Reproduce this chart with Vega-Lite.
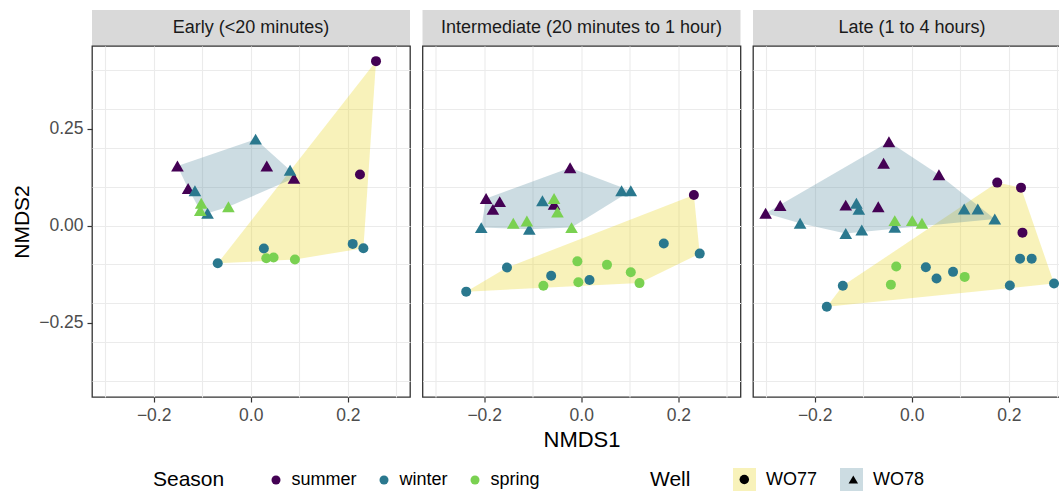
{
  "$schema": "https://vega.github.io/schema/vega-lite/v6.json",
  "background": "white",
  "padding": {"left": 11, "top": 10, "right": 0, "bottom": 0},
  "spacing": 10.5,
  "datasets": {
    "pts": [
      {"Time": "Early", "Well": "WO77", "Season": "summer", "NMDS1": 0.258, "NMDS2": 0.424},
      {"Time": "Early", "Well": "WO77", "Season": "summer", "NMDS1": 0.225, "NMDS2": 0.132},
      {"Time": "Early", "Well": "WO77", "Season": "winter", "NMDS1": 0.210, "NMDS2": -0.047},
      {"Time": "Early", "Well": "WO77", "Season": "winter", "NMDS1": 0.232, "NMDS2": -0.058},
      {"Time": "Early", "Well": "WO77", "Season": "winter", "NMDS1": 0.027, "NMDS2": -0.059},
      {"Time": "Early", "Well": "WO77", "Season": "winter", "NMDS1": -0.068, "NMDS2": -0.097},
      {"Time": "Early", "Well": "WO77", "Season": "spring", "NMDS1": 0.032, "NMDS2": -0.084},
      {"Time": "Early", "Well": "WO77", "Season": "spring", "NMDS1": 0.047, "NMDS2": -0.082},
      {"Time": "Early", "Well": "WO77", "Season": "spring", "NMDS1": 0.091, "NMDS2": -0.087},
      {"Time": "Early", "Well": "WO78", "Season": "summer", "NMDS1": -0.151, "NMDS2": 0.154},
      {"Time": "Early", "Well": "WO78", "Season": "summer", "NMDS1": -0.129, "NMDS2": 0.096},
      {"Time": "Early", "Well": "WO78", "Season": "summer", "NMDS1": 0.033, "NMDS2": 0.154},
      {"Time": "Early", "Well": "WO78", "Season": "summer", "NMDS1": 0.089, "NMDS2": 0.122},
      {"Time": "Early", "Well": "WO78", "Season": "winter", "NMDS1": 0.010, "NMDS2": 0.223},
      {"Time": "Early", "Well": "WO78", "Season": "winter", "NMDS1": 0.081, "NMDS2": 0.143},
      {"Time": "Early", "Well": "WO78", "Season": "winter", "NMDS1": -0.115, "NMDS2": 0.090},
      {"Time": "Early", "Well": "WO78", "Season": "winter", "NMDS1": -0.089, "NMDS2": 0.032},
      {"Time": "Early", "Well": "WO78", "Season": "spring", "NMDS1": -0.102, "NMDS2": 0.058},
      {"Time": "Early", "Well": "WO78", "Season": "spring", "NMDS1": -0.104, "NMDS2": 0.039},
      {"Time": "Early", "Well": "WO78", "Season": "spring", "NMDS1": -0.046, "NMDS2": 0.049},
      {"Time": "Intermediate", "Well": "WO77", "Season": "summer", "NMDS1": 0.232, "NMDS2": 0.079},
      {"Time": "Intermediate", "Well": "WO77", "Season": "winter", "NMDS1": -0.237, "NMDS2": -0.170},
      {"Time": "Intermediate", "Well": "WO77", "Season": "winter", "NMDS1": -0.153, "NMDS2": -0.108},
      {"Time": "Intermediate", "Well": "WO77", "Season": "winter", "NMDS1": -0.062, "NMDS2": -0.129},
      {"Time": "Intermediate", "Well": "WO77", "Season": "winter", "NMDS1": 0.017, "NMDS2": -0.140},
      {"Time": "Intermediate", "Well": "WO77", "Season": "winter", "NMDS1": 0.170, "NMDS2": -0.046},
      {"Time": "Intermediate", "Well": "WO77", "Season": "winter", "NMDS1": 0.244, "NMDS2": -0.072},
      {"Time": "Intermediate", "Well": "WO77", "Season": "spring", "NMDS1": -0.008, "NMDS2": -0.092},
      {"Time": "Intermediate", "Well": "WO77", "Season": "spring", "NMDS1": 0.053, "NMDS2": -0.101},
      {"Time": "Intermediate", "Well": "WO77", "Season": "spring", "NMDS1": 0.102, "NMDS2": -0.120},
      {"Time": "Intermediate", "Well": "WO77", "Season": "spring", "NMDS1": 0.120, "NMDS2": -0.148},
      {"Time": "Intermediate", "Well": "WO77", "Season": "spring", "NMDS1": -0.006, "NMDS2": -0.146},
      {"Time": "Intermediate", "Well": "WO77", "Season": "spring", "NMDS1": -0.078, "NMDS2": -0.155},
      {"Time": "Intermediate", "Well": "WO78", "Season": "summer", "NMDS1": -0.023, "NMDS2": 0.149},
      {"Time": "Intermediate", "Well": "WO78", "Season": "summer", "NMDS1": -0.196, "NMDS2": 0.070},
      {"Time": "Intermediate", "Well": "WO78", "Season": "summer", "NMDS1": -0.168, "NMDS2": 0.062},
      {"Time": "Intermediate", "Well": "WO78", "Season": "summer", "NMDS1": -0.182, "NMDS2": 0.042},
      {"Time": "Intermediate", "Well": "WO78", "Season": "summer", "NMDS1": -0.056, "NMDS2": 0.055},
      {"Time": "Intermediate", "Well": "WO78", "Season": "winter", "NMDS1": -0.206, "NMDS2": -0.005},
      {"Time": "Intermediate", "Well": "WO78", "Season": "winter", "NMDS1": -0.080, "NMDS2": 0.064},
      {"Time": "Intermediate", "Well": "WO78", "Season": "winter", "NMDS1": -0.107, "NMDS2": -0.009},
      {"Time": "Intermediate", "Well": "WO78", "Season": "winter", "NMDS1": 0.083, "NMDS2": 0.090},
      {"Time": "Intermediate", "Well": "WO78", "Season": "winter", "NMDS1": 0.102, "NMDS2": 0.090},
      {"Time": "Intermediate", "Well": "WO78", "Season": "spring", "NMDS1": -0.056, "NMDS2": 0.070},
      {"Time": "Intermediate", "Well": "WO78", "Season": "spring", "NMDS1": -0.049, "NMDS2": 0.035},
      {"Time": "Intermediate", "Well": "WO78", "Season": "spring", "NMDS1": -0.140, "NMDS2": 0.006},
      {"Time": "Intermediate", "Well": "WO78", "Season": "spring", "NMDS1": -0.112, "NMDS2": 0.012},
      {"Time": "Intermediate", "Well": "WO78", "Season": "spring", "NMDS1": -0.020, "NMDS2": -0.005},
      {"Time": "Late", "Well": "WO77", "Season": "summer", "NMDS1": 0.176, "NMDS2": 0.111},
      {"Time": "Late", "Well": "WO77", "Season": "summer", "NMDS1": 0.225, "NMDS2": 0.098},
      {"Time": "Late", "Well": "WO77", "Season": "summer", "NMDS1": 0.228, "NMDS2": -0.018},
      {"Time": "Late", "Well": "WO77", "Season": "winter", "NMDS1": -0.175, "NMDS2": -0.209},
      {"Time": "Late", "Well": "WO77", "Season": "winter", "NMDS1": -0.142, "NMDS2": -0.155},
      {"Time": "Late", "Well": "WO77", "Season": "winter", "NMDS1": 0.029, "NMDS2": -0.107},
      {"Time": "Late", "Well": "WO77", "Season": "winter", "NMDS1": 0.051, "NMDS2": -0.136},
      {"Time": "Late", "Well": "WO77", "Season": "winter", "NMDS1": 0.085, "NMDS2": -0.119},
      {"Time": "Late", "Well": "WO77", "Season": "winter", "NMDS1": 0.202, "NMDS2": -0.154},
      {"Time": "Late", "Well": "WO77", "Season": "winter", "NMDS1": 0.223, "NMDS2": -0.085},
      {"Time": "Late", "Well": "WO77", "Season": "winter", "NMDS1": 0.247, "NMDS2": -0.085},
      {"Time": "Late", "Well": "WO77", "Season": "winter", "NMDS1": 0.293, "NMDS2": -0.149},
      {"Time": "Late", "Well": "WO77", "Season": "spring", "NMDS1": -0.032, "NMDS2": -0.105},
      {"Time": "Late", "Well": "WO77", "Season": "spring", "NMDS1": -0.043, "NMDS2": -0.152},
      {"Time": "Late", "Well": "WO77", "Season": "spring", "NMDS1": 0.109, "NMDS2": -0.132},
      {"Time": "Late", "Well": "WO78", "Season": "summer", "NMDS1": -0.301, "NMDS2": 0.032},
      {"Time": "Late", "Well": "WO78", "Season": "summer", "NMDS1": -0.271, "NMDS2": 0.052},
      {"Time": "Late", "Well": "WO78", "Season": "summer", "NMDS1": -0.047, "NMDS2": 0.216},
      {"Time": "Late", "Well": "WO78", "Season": "summer", "NMDS1": -0.058, "NMDS2": 0.161},
      {"Time": "Late", "Well": "WO78", "Season": "summer", "NMDS1": 0.056, "NMDS2": 0.131},
      {"Time": "Late", "Well": "WO78", "Season": "summer", "NMDS1": -0.136, "NMDS2": 0.053},
      {"Time": "Late", "Well": "WO78", "Season": "summer", "NMDS1": -0.069, "NMDS2": 0.049},
      {"Time": "Late", "Well": "WO78", "Season": "winter", "NMDS1": -0.230, "NMDS2": 0.006},
      {"Time": "Late", "Well": "WO78", "Season": "winter", "NMDS1": -0.114, "NMDS2": 0.058},
      {"Time": "Late", "Well": "WO78", "Season": "winter", "NMDS1": -0.109, "NMDS2": 0.042},
      {"Time": "Late", "Well": "WO78", "Season": "winter", "NMDS1": -0.136, "NMDS2": -0.020},
      {"Time": "Late", "Well": "WO78", "Season": "winter", "NMDS1": -0.103, "NMDS2": -0.011},
      {"Time": "Late", "Well": "WO78", "Season": "winter", "NMDS1": -0.035, "NMDS2": -0.004},
      {"Time": "Late", "Well": "WO78", "Season": "winter", "NMDS1": 0.108, "NMDS2": 0.043},
      {"Time": "Late", "Well": "WO78", "Season": "winter", "NMDS1": 0.136, "NMDS2": 0.043},
      {"Time": "Late", "Well": "WO78", "Season": "winter", "NMDS1": 0.171, "NMDS2": 0.017},
      {"Time": "Late", "Well": "WO78", "Season": "spring", "NMDS1": -0.035, "NMDS2": 0.013},
      {"Time": "Late", "Well": "WO78", "Season": "spring", "NMDS1": 0.001, "NMDS2": 0.013},
      {"Time": "Late", "Well": "WO78", "Season": "spring", "NMDS1": 0.021, "NMDS2": 0.006}
    ],
    "hull": [
      {"Time": "Early", "Well": "WO77", "Vertex": 1, "NMDS1": -0.068, "NMDS2": -0.097},
      {"Time": "Early", "Well": "WO77", "Vertex": 2, "NMDS1": 0.258, "NMDS2": 0.424},
      {"Time": "Early", "Well": "WO77", "Vertex": 3, "NMDS1": 0.232, "NMDS2": -0.058},
      {"Time": "Early", "Well": "WO77", "Vertex": 4, "NMDS1": 0.091, "NMDS2": -0.087},
      {"Time": "Early", "Well": "WO78", "Vertex": 1, "NMDS1": -0.151, "NMDS2": 0.154},
      {"Time": "Early", "Well": "WO78", "Vertex": 2, "NMDS1": 0.010, "NMDS2": 0.223},
      {"Time": "Early", "Well": "WO78", "Vertex": 3, "NMDS1": 0.081, "NMDS2": 0.143},
      {"Time": "Early", "Well": "WO78", "Vertex": 4, "NMDS1": 0.089, "NMDS2": 0.122},
      {"Time": "Early", "Well": "WO78", "Vertex": 5, "NMDS1": -0.046, "NMDS2": 0.049},
      {"Time": "Early", "Well": "WO78", "Vertex": 6, "NMDS1": -0.089, "NMDS2": 0.032},
      {"Time": "Early", "Well": "WO78", "Vertex": 7, "NMDS1": -0.104, "NMDS2": 0.039},
      {"Time": "Early", "Well": "WO78", "Vertex": 8, "NMDS1": -0.129, "NMDS2": 0.096},
      {"Time": "Intermediate", "Well": "WO77", "Vertex": 1, "NMDS1": -0.237, "NMDS2": -0.170},
      {"Time": "Intermediate", "Well": "WO77", "Vertex": 2, "NMDS1": -0.153, "NMDS2": -0.108},
      {"Time": "Intermediate", "Well": "WO77", "Vertex": 3, "NMDS1": 0.232, "NMDS2": 0.079},
      {"Time": "Intermediate", "Well": "WO77", "Vertex": 4, "NMDS1": 0.244, "NMDS2": -0.072},
      {"Time": "Intermediate", "Well": "WO77", "Vertex": 5, "NMDS1": 0.120, "NMDS2": -0.148},
      {"Time": "Intermediate", "Well": "WO78", "Vertex": 1, "NMDS1": -0.206, "NMDS2": -0.005},
      {"Time": "Intermediate", "Well": "WO78", "Vertex": 2, "NMDS1": -0.196, "NMDS2": 0.070},
      {"Time": "Intermediate", "Well": "WO78", "Vertex": 3, "NMDS1": -0.023, "NMDS2": 0.149},
      {"Time": "Intermediate", "Well": "WO78", "Vertex": 4, "NMDS1": 0.102, "NMDS2": 0.090},
      {"Time": "Intermediate", "Well": "WO78", "Vertex": 5, "NMDS1": -0.020, "NMDS2": -0.005},
      {"Time": "Intermediate", "Well": "WO78", "Vertex": 6, "NMDS1": -0.107, "NMDS2": -0.009},
      {"Time": "Late", "Well": "WO77", "Vertex": 1, "NMDS1": -0.175, "NMDS2": -0.209},
      {"Time": "Late", "Well": "WO77", "Vertex": 2, "NMDS1": -0.142, "NMDS2": -0.155},
      {"Time": "Late", "Well": "WO77", "Vertex": 3, "NMDS1": 0.176, "NMDS2": 0.111},
      {"Time": "Late", "Well": "WO77", "Vertex": 4, "NMDS1": 0.225, "NMDS2": 0.098},
      {"Time": "Late", "Well": "WO77", "Vertex": 5, "NMDS1": 0.293, "NMDS2": -0.149},
      {"Time": "Late", "Well": "WO78", "Vertex": 1, "NMDS1": -0.301, "NMDS2": 0.032},
      {"Time": "Late", "Well": "WO78", "Vertex": 2, "NMDS1": -0.047, "NMDS2": 0.216},
      {"Time": "Late", "Well": "WO78", "Vertex": 3, "NMDS1": 0.056, "NMDS2": 0.131},
      {"Time": "Late", "Well": "WO78", "Vertex": 4, "NMDS1": 0.171, "NMDS2": 0.017},
      {"Time": "Late", "Well": "WO78", "Vertex": 5, "NMDS1": -0.136, "NMDS2": -0.020},
      {"Time": "Late", "Well": "WO78", "Vertex": 6, "NMDS1": -0.230, "NMDS2": 0.006}
    ]
  },
  "hconcat": [
    {
      "bounds": "flush",
      "spacing": 0,
      "vconcat": [
        {
          "width": 318, "height": 36,
          "data": {"values": [{"label": "Early (<20 minutes)"}]},
          "mark": {"type": "text", "fontSize": 18, "color": "#1A1A1A", "baseline": "middle"},
          "encoding": {"text": {"field": "label"}},
          "view": {"fill": "#D9D9D9"}
        },
        {
          "width": 318, "height": 351,
          "resolve": {"axis": {"x": "independent", "y": "independent"}},
          "layer": [
            {
              "data": {"name": "hull"},
              "transform": [{"filter": "datum.Time === 'Early'"}],
              "mark": {"type": "line", "interpolate": "linear-closed", "strokeWidth": 0, "fillOpacity": 0.3},
              "encoding": {
                "x": {"field": "NMDS1", "type": "quantitative", "scale": {"domain": [-0.327, 0.328], "nice": false, "zero": false},
                      "axis": {"orient": "bottom", "values": [-0.3, -0.2, -0.1, 0, 0.1, 0.2, 0.3], "grid": true, "labels": false, "ticks": false, "domain": false, "title": null}},
                "y": {"field": "NMDS2", "type": "quantitative", "scale": {"domain": [-0.4415, 0.463], "nice": false, "zero": false},
                      "axis": {"orient": "left", "values": [-0.4, -0.3, -0.2, -0.1, 0, 0.1, 0.2, 0.3, 0.4], "grid": true, "labels": false, "ticks": false, "domain": false, "title": null}},
                "fill": {"field": "Well", "type": "nominal", "scale": {"domain": ["WO77", "WO78"], "range": ["#E8D419", "#558A9E"]},
                         "legend": {"title": "Well", "orient": "none", "legendX": 558, "legendY": 458, "direction": "horizontal", "titleOrient": "left", "titlePadding": 42, "symbolType": "square", "symbolSize": 529, "symbolStrokeWidth": 0, "symbolOpacity": 0.3, "labelOffset": 10, "columnPadding": 22, "zindex": 0}},
                "order": {"field": "Vertex", "type": "quantitative"}
              }
            },
            {
              "data": {"name": "pts"},
              "transform": [{"filter": "datum.Time === 'Early'"}],
              "mark": {"type": "point", "filled": true, "opacity": 1, "strokeWidth": 0},
              "encoding": {
                "x": {"field": "NMDS1", "type": "quantitative", "scale": {"domain": [-0.327, 0.328], "nice": false, "zero": false},
                      "axis": {"orient": "bottom", "values": [-0.2, 0, 0.2], "format": ".1f", "grid": false, "domain": false, "title": null}},
                "y": {"field": "NMDS2", "type": "quantitative", "scale": {"domain": [-0.4415, 0.463], "nice": false, "zero": false},
                      "axis": {"orient": "left", "values": [-0.25, 0, 0.25], "format": ".2f", "grid": false, "domain": false, "title": "NMDS2"}},
                "color": {"field": "Season", "type": "nominal", "scale": {"domain": ["summer", "winter", "spring"], "range": ["#440154", "#2A788E", "#7AD151"]},
                          "legend": {"title": "Season", "orient": "none", "legendX": 61, "legendY": 461, "direction": "horizontal", "titleOrient": "left", "titlePadding": 42, "symbolType": "circle", "symbolSize": 81, "symbolStrokeWidth": 0, "labelOffset": 6.4, "columnPadding": 18}},
                "shape": {"field": "Well", "type": "nominal", "scale": {"range": ["circle", "triangle-up"]},
                          "legend": {"title": null, "orient": "none", "legendX": 640.8, "legendY": 460.5, "direction": "horizontal", "symbolSize": 90, "symbolFillColor": "black", "symbolStrokeWidth": 0, "symbolOffset": 2.5, "labelOffset": 15, "labelOpacity": 0, "columnPadding": 22, "zindex": 2}},
                "size": {"field": "Well", "type": "nominal", "scale": {"domain": ["WO78", "WO77"], "range": [160, 100]}, "legend": null}
              }
            }
          ]
        }
      ]
    },
    {
      "bounds": "flush",
      "spacing": 0,
      "vconcat": [
        {
          "width": 318, "height": 36,
          "data": {"values": [{"label": "Intermediate (20 minutes to 1 hour)"}]},
          "mark": {"type": "text", "fontSize": 18, "color": "#1A1A1A", "baseline": "middle"},
          "encoding": {"text": {"field": "label"}},
          "view": {"fill": "#D9D9D9"}
        },
        {
          "width": 318, "height": 351,
          "resolve": {"axis": {"x": "independent", "y": "independent"}},
          "layer": [
            {
              "data": {"name": "hull"},
              "transform": [{"filter": "datum.Time === 'Intermediate'"}],
              "mark": {"type": "line", "interpolate": "linear-closed", "strokeWidth": 0, "fillOpacity": 0.3},
              "encoding": {
                "x": {"field": "NMDS1", "type": "quantitative", "scale": {"domain": [-0.327, 0.328], "nice": false, "zero": false},
                      "axis": {"orient": "bottom", "values": [-0.3, -0.2, -0.1, 0, 0.1, 0.2, 0.3], "grid": true, "labels": false, "ticks": false, "domain": false, "title": null}},
                "y": {"field": "NMDS2", "type": "quantitative", "scale": {"domain": [-0.4415, 0.463], "nice": false, "zero": false},
                      "axis": {"orient": "left", "values": [-0.4, -0.3, -0.2, -0.1, 0, 0.1, 0.2, 0.3, 0.4], "grid": true, "labels": false, "ticks": false, "domain": false, "title": null}},
                "fill": {"field": "Well", "type": "nominal", "scale": {"domain": ["WO77", "WO78"], "range": ["#E8D419", "#558A9E"]},
                         "legend": {"title": "Well", "orient": "none", "legendX": 558, "legendY": 458, "direction": "horizontal", "titleOrient": "left", "titlePadding": 42, "symbolType": "square", "symbolSize": 529, "symbolStrokeWidth": 0, "symbolOpacity": 0.3, "labelOffset": 10, "columnPadding": 22, "zindex": 0}},
                "order": {"field": "Vertex", "type": "quantitative"}
              }
            },
            {
              "data": {"name": "pts"},
              "transform": [{"filter": "datum.Time === 'Intermediate'"}],
              "mark": {"type": "point", "filled": true, "opacity": 1, "strokeWidth": 0},
              "encoding": {
                "x": {"field": "NMDS1", "type": "quantitative", "scale": {"domain": [-0.327, 0.328], "nice": false, "zero": false},
                      "axis": {"orient": "bottom", "values": [-0.2, 0, 0.2], "format": ".1f", "grid": false, "domain": false, "title": "NMDS1", "titleFontSize": 22}},
                "y": {"field": "NMDS2", "type": "quantitative", "scale": {"domain": [-0.4415, 0.463], "nice": false, "zero": false}, "axis": null},
                "color": {"field": "Season", "type": "nominal", "scale": {"domain": ["summer", "winter", "spring"], "range": ["#440154", "#2A788E", "#7AD151"]},
                          "legend": {"title": "Season", "orient": "none", "legendX": 61, "legendY": 461, "direction": "horizontal", "titleOrient": "left", "titlePadding": 42, "symbolType": "circle", "symbolSize": 81, "symbolStrokeWidth": 0, "labelOffset": 6.4, "columnPadding": 18}},
                "shape": {"field": "Well", "type": "nominal", "scale": {"range": ["circle", "triangle-up"]},
                          "legend": {"title": null, "orient": "none", "legendX": 640.8, "legendY": 460.5, "direction": "horizontal", "symbolSize": 90, "symbolFillColor": "black", "symbolStrokeWidth": 0, "symbolOffset": 2.5, "labelOffset": 15, "labelOpacity": 0, "columnPadding": 22, "zindex": 2}},
                "size": {"field": "Well", "type": "nominal", "scale": {"domain": ["WO78", "WO77"], "range": [160, 100]}, "legend": null}
              }
            }
          ]
        }
      ]
    },
    {
      "bounds": "flush",
      "spacing": 0,
      "vconcat": [
        {
          "width": 307, "height": 36,
          "data": {"values": [{"label": "Late (1 to 4 hours)"}]},
          "mark": {"type": "text", "fontSize": 18, "color": "#1A1A1A", "baseline": "middle", "dx": 5.5},
          "encoding": {"text": {"field": "label"}},
          "view": {"fill": "#D9D9D9"}
        },
        {
          "width": 307, "height": 351,
          "resolve": {"axis": {"x": "independent", "y": "independent"}},
          "layer": [
            {
              "data": {"name": "hull"},
              "transform": [{"filter": "datum.Time === 'Late'"}],
              "mark": {"type": "line", "interpolate": "linear-closed", "strokeWidth": 0, "fillOpacity": 0.3, "clip": true},
              "encoding": {
                "x": {"field": "NMDS1", "type": "quantitative", "scale": {"domain": [-0.327, 0.3053], "nice": false, "zero": false},
                      "axis": {"orient": "bottom", "values": [-0.3, -0.2, -0.1, 0, 0.1, 0.2, 0.3], "grid": true, "labels": false, "ticks": false, "domain": false, "title": null}},
                "y": {"field": "NMDS2", "type": "quantitative", "scale": {"domain": [-0.4415, 0.463], "nice": false, "zero": false},
                      "axis": {"orient": "left", "values": [-0.4, -0.3, -0.2, -0.1, 0, 0.1, 0.2, 0.3, 0.4], "grid": true, "labels": false, "ticks": false, "domain": false, "title": null}},
                "fill": {"field": "Well", "type": "nominal", "scale": {"domain": ["WO77", "WO78"], "range": ["#E8D419", "#558A9E"]},
                         "legend": {"title": "Well", "orient": "none", "legendX": 558, "legendY": 458, "direction": "horizontal", "titleOrient": "left", "titlePadding": 42, "symbolType": "square", "symbolSize": 529, "symbolStrokeWidth": 0, "symbolOpacity": 0.3, "labelOffset": 10, "columnPadding": 22, "zindex": 0}},
                "order": {"field": "Vertex", "type": "quantitative"}
              }
            },
            {
              "data": {"name": "pts"},
              "transform": [{"filter": "datum.Time === 'Late'"}],
              "mark": {"type": "point", "filled": true, "opacity": 1, "strokeWidth": 0, "clip": true},
              "encoding": {
                "x": {"field": "NMDS1", "type": "quantitative", "scale": {"domain": [-0.327, 0.3053], "nice": false, "zero": false},
                      "axis": {"orient": "bottom", "values": [-0.2, 0, 0.2], "format": ".1f", "grid": false, "domain": false, "title": null}},
                "y": {"field": "NMDS2", "type": "quantitative", "scale": {"domain": [-0.4415, 0.463], "nice": false, "zero": false}, "axis": null},
                "color": {"field": "Season", "type": "nominal", "scale": {"domain": ["summer", "winter", "spring"], "range": ["#440154", "#2A788E", "#7AD151"]},
                          "legend": {"title": "Season", "orient": "none", "legendX": 61, "legendY": 461, "direction": "horizontal", "titleOrient": "left", "titlePadding": 42, "symbolType": "circle", "symbolSize": 81, "symbolStrokeWidth": 0, "labelOffset": 6.4, "columnPadding": 18}},
                "shape": {"field": "Well", "type": "nominal", "scale": {"range": ["circle", "triangle-up"]},
                          "legend": {"title": null, "orient": "none", "legendX": 640.8, "legendY": 460.5, "direction": "horizontal", "symbolSize": 90, "symbolFillColor": "black", "symbolStrokeWidth": 0, "symbolOffset": 2.5, "labelOffset": 15, "labelOpacity": 0, "columnPadding": 22, "zindex": 2}},
                "size": {"field": "Well", "type": "nominal", "scale": {"domain": ["WO78", "WO77"], "range": [160, 100]}, "legend": null}
              }
            }
          ]
        }
      ]
    }
  ],
  "resolve": {"scale": {"color": "shared", "shape": "shared", "fill": "shared", "size": "shared"}},
  "config": {
    "font": "Liberation Sans",
    "view": {"stroke": "#333333", "strokeWidth": 1.3},
    "axis": {
      "gridColor": "#EBEBEB", "gridWidth": 1.1,
      "tickColor": "#333333", "tickWidth": 1.2, "tickSize": 5,
      "labelFontSize": 17.5, "labelColor": "#4D4D4D", "labelPadding": 4,
      "titleFontSize": 21, "titleFontWeight": "normal", "titleColor": "black", "titlePadding": 6
    },
    "legend": {
      "titleFontSize": 21, "titleFontWeight": "normal", "titleColor": "black",
      "labelFontSize": 18, "labelColor": "black",
      "symbolBaseFillColor": "black"
    }
  }
}
